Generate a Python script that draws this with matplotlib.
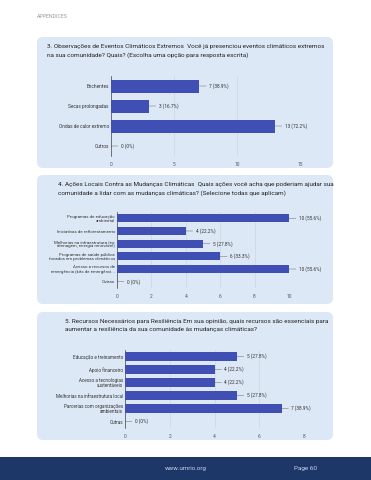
import matplotlib.pyplot as plt
from matplotlib.patches import FancyBboxPatch, Rectangle

plt.rcParams['font.family'] = ['Roboto', 'DejaVu Sans']

W, H = 371, 480

# data
q3_title = ("3. Observações de Eventos Climáticos Extremos  Você já presenciou eventos climáticos extremos\n"
            "na sua comunidade? Quais? (Escolha uma opção para resposta escrita)")
q3_cats = ["Enchentes", "Secas prolongadas", "Ondas de calor extremo", "Outros"]
q3_vals = [7, 3, 13, 0]
q3_pct = ["38.9%", "16.7%", "72.2%", "0%"]

q4_title = ("4. Ações Locais Contra as Mudanças Climáticas  Quais ações você acha que poderiam ajudar sua\n"
            "comunidade a lidar com as mudanças climáticas? (Selecione todas que aplicam)")
q4_cats = ["Programas de educação\nambiental", "Iniciativas de reflorestamento",
           "Melhorias na infraestrutura (ex:\ndrenagem, energia renovável)",
           "Programas de saúde pública\nfocados em problemas climáticos",
           "Acesso a recursos de\nemergência (kits de emergênci...", "Outras"]
q4_vals = [10, 4, 5, 6, 10, 0]
q4_pct = ["55.6%", "22.2%", "27.8%", "33.3%", "55.6%", "0%"]

q5_title = ("5. Recursos Necessários para Resiliência Em sua opinião, quais recursos são essenciais para\n"
            "aumentar a resiliência da sua comunidade às mudanças climáticas?")
q5_cats = ["Educação e treinamento", "Apoio financeiro", "Acesso a tecnologias\nsustentáveis",
           "Melhorias na infraestrutura local", "Parcerias com organizações\nambientais", "Outras"]
q5_vals = [5, 4, 4, 5, 7, 0]
q5_pct = ["27.8%", "22.2%", "22.2%", "27.8%", "38.9%", "0%"]

bar_col = "#3f4fb3"
panel_col = "#dde8f6"

fig = plt.figure(figsize=(W / 100, H / 100), dpi=100)
bg = fig.add_axes([0, 0, 1, 1])
bg.set_xlim(0, W)
bg.set_ylim(H, 0)
bg.axis("off")

bg.text(37, 16, "APPENDICES", fontsize=3.8, color="#9a9a9a", va="center")

# panels
for top, bot in [(37, 168), (175, 304), (312, 440)]:
    bg.add_patch(FancyBboxPatch((37 + 6, top + 6), 296 - 12, bot - top - 12,
                                boxstyle="round,pad=6", fc=panel_col, ec="none"))

# footer
bg.add_patch(Rectangle((0, 457), W, 23, fc="#1d3868", ec="none"))
bg.text(186, 468.5, "www.umrio.org", fontsize=4.4, color="#c9d3e6", ha="center", va="center")
bg.text(306, 468.5, "Page 60", fontsize=4.6, color="#c9d3e6", ha="center", va="center")


def chart(title, tx, ty, cats, vals, pct, left, right, top, bottom, xmax, step, lab_fs):
    bg.text(tx, ty, title, fontsize=4.55, color="#222222", va="top", linespacing=1.7)
    ax = fig.add_axes([left / W, 1 - bottom / H, (right - left) / W, (bottom - top) / H])
    ax.set_facecolor("none")
    y = range(len(cats))
    ax.barh(y, vals, height=0.65, color=bar_col, zorder=3)
    ax.set_ylim(len(cats) - 0.5, -0.5)
    ax.set_xlim(0, xmax)
    ax.set_xticks(range(0, xmax + 1, step))
    ax.set_yticks(list(y))
    ax.set_yticklabels(cats, fontsize=lab_fs, color="#333333", linespacing=1.0)
    ax.tick_params(axis="x", labelsize=3.5, colors="#555555", length=0, pad=4)
    ax.tick_params(axis="y", length=0, pad=1.5)
    ax.grid(axis="x", color="#c8d0dc", lw=0.4, zorder=0)
    for s in ["top", "right", "bottom"]:
        ax.spines[s].set_visible(False)
    ax.spines["left"].set_color("#444444")
    ax.spines["left"].set_linewidth(0.5)
    for i, (v, p) in enumerate(zip(vals, pct)):
        ax.annotate(f"{v} ({p})", xy=(v, i), xytext=(7, 0), textcoords="offset points",
                    fontsize=3.4, color="#333333", va="center",
                    arrowprops=dict(arrowstyle="-", color="#555555", lw=0.3,
                                    shrinkA=0, shrinkB=0))


chart(q3_title, 47, 44, q3_cats, q3_vals, q3_pct, 111, 300, 76, 156, 15, 5, 3.4)
chart(q4_title, 58, 182, q4_cats, q4_vals, q4_pct, 117, 289, 212, 288, 10, 2, 3.2)
chart(q5_title, 65, 319, q5_cats, q5_vals, q5_pct, 125, 304, 350, 428, 8, 2, 3.3)

fig.savefig("out.png", dpi=100)
